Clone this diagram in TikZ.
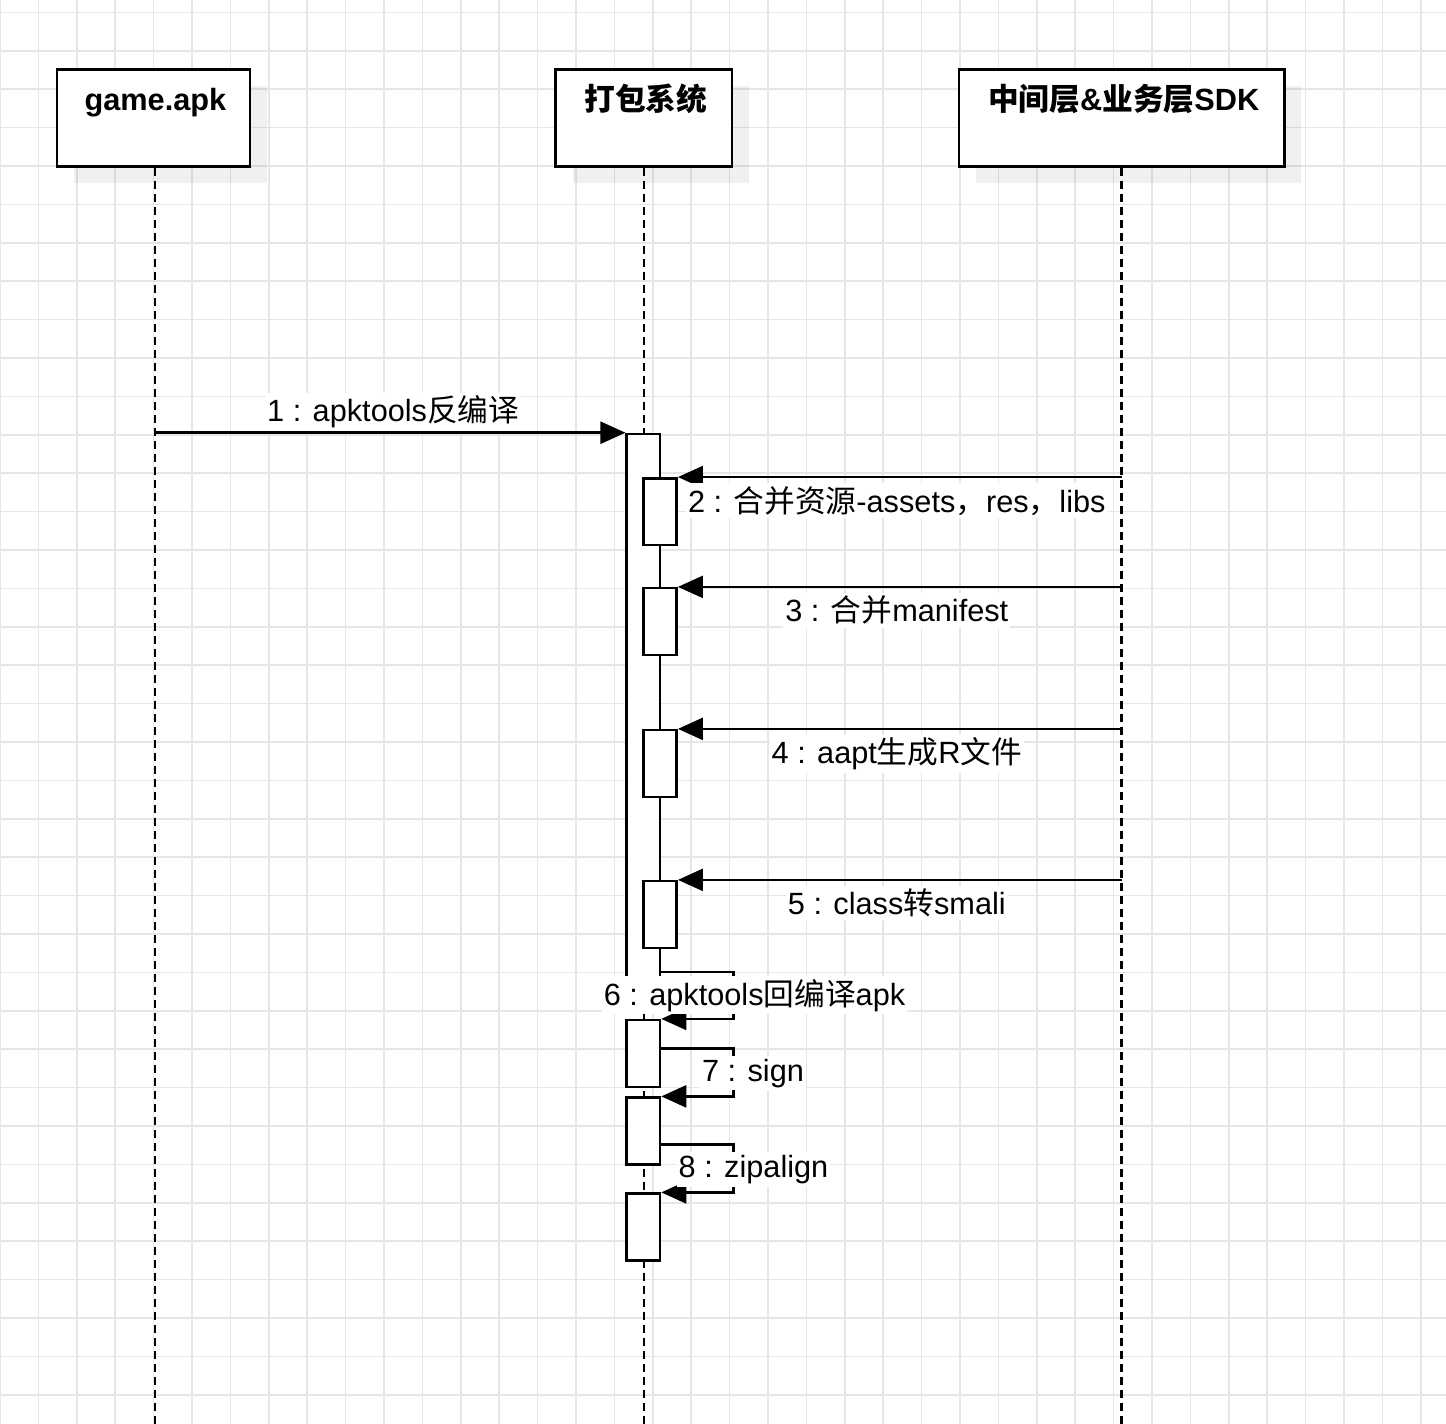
\documentclass[tikz,border=0pt]{standalone}
\usepackage{fontspec}
\setmainfont{Liberation Sans}
\newfontfamily\cjk{Noto Sans CJK SC}
\usetikzlibrary{arrows.meta,positioning,calc,shadows}
\newcommand{\zh}[1]{{\cjk #1}}
\definecolor{gridgray}{HTML}{E6E6E6}
\tikzset{
  head/.style     = {draw, line width=2.56pt, fill=white, minimum height=97pt, inner sep=0pt,
                     drop shadow={shadow xshift=17pt,shadow yshift=-17pt,fill=black,opacity=0.06}},
  headtxt/.style  = {font=\fontsize{30.7}{36}\selectfont\bfseries, inner sep=0pt, anchor=base},
  lifeline/.style = {line width=2.56pt, dash pattern=on 8pt off 5pt},
  act/.style      = {draw, line width=2.56pt, fill=white, minimum width=33.3pt, inner sep=0pt},
  msg/.style      = {-{Triangle[length=25pt,width=22pt]}, line width=2.56pt},
  lbl/.style      = {fill=white, inner xsep=2pt, inner ysep=3pt, anchor=base,
                     font=\fontsize{30.7}{36}\selectfont},
}

\begin{document}
\begin{tikzpicture}[x=1pt,y=-1pt]
\useasboundingbox (0,0) rectangle (1446,1424);
% background grid
\foreach \gx in {0,...,37} \draw[gridgray, line width=1.6pt] (\gx*38.4,0) -- (\gx*38.4,1424);
\foreach \gy in {0,...,36} \draw[gridgray, line width=1.6pt] (0,12.3+\gy*38.4) -- (1446,12.3+\gy*38.4);

% lifeline heads
\node[head, minimum width=193pt]   (game) at (153.4,117.8) {};
\node[head, minimum width=176.3pt] (pack) at (643.9,117.8) {};
\node[head, minimum width=325.3pt] (sdk)  at (1121.7,117.8) {};
\node[headtxt] at ([xshift=2pt,yshift=-42pt]game.north) {game.apk};
\node[headtxt] at ([xshift=2pt,yshift=-42pt]pack.north) {\zh{打包系统}};
\node[headtxt] at ([xshift=2pt,yshift=-42pt]sdk.north)  {\zh{中间层}\&\zh{业务层}SDK};

\coordinate (bot) at (0,1424);
\draw[lifeline] ([xshift=1.6pt]game.south) -- ([xshift=1.6pt]game.south |- bot);
\foreach \n in {pack,sdk} \draw[lifeline] (\n.south) -- (\n.south |- bot);

% activations
\node[act, minimum height=566pt] (a0) at (643.35,717) {};
\foreach \i/\y in {2/511.7,3/621.5,4/763.5,5/914.5}
  \node[act, minimum height=66.7pt] (a\i) at (660,\y) {};
\foreach \i/\y in {6/1053.5,7/1131,8/1227}
  \node[act, minimum height=66.7pt] (a\i) at (643.35,\y) {};

% messages
\draw[msg] ([xshift=1.6pt]game.south |- a0.north) -- node[lbl, yshift=11pt, xshift=3pt] {1 : apktools\zh{反编译}} (a0.north west);
\draw[msg] (a2.north east -| sdk) -- node[lbl, yshift=-35pt, xshift=-3pt] {2 : \zh{合并资源}-assets\zh{，}res\zh{，}libs} (a2.north east);
\draw[msg] (a3.north east -| sdk) -- node[lbl, yshift=-35pt, xshift=-3pt] {3 : \zh{合并}manifest} (a3.north east);
\draw[msg] (a4.north east -| sdk) -- node[lbl, yshift=-35pt, xshift=-3pt] {4 : aapt\zh{生成}R\zh{文件}} (a4.north east);
\draw[msg] (a5.north east -| sdk) -- node[lbl, yshift=-35pt, xshift=-3pt] {5 : class\zh{转}smali} (a5.north east);

% self calls
\draw[msg] (a0.east |- 0,972) -- ++(72,0) |- (a6.north east);
\draw[msg] (a6.east |- 0,1048.5) -- ++(72,0) |- (a7.north east);
\draw[msg] (a7.east |- 0,1144.5) -- ++(72,0) |- (a8.north east);
\node[lbl] (l6) at (754.5,1005) {6 : apktools\zh{回编译}apk};
\node[lbl] (l7) at (753,1081) {7 : sign};
\node[lbl] (l8) at (753.5,1177.7) {8 : zipalign};
\end{tikzpicture}
\end{document}
